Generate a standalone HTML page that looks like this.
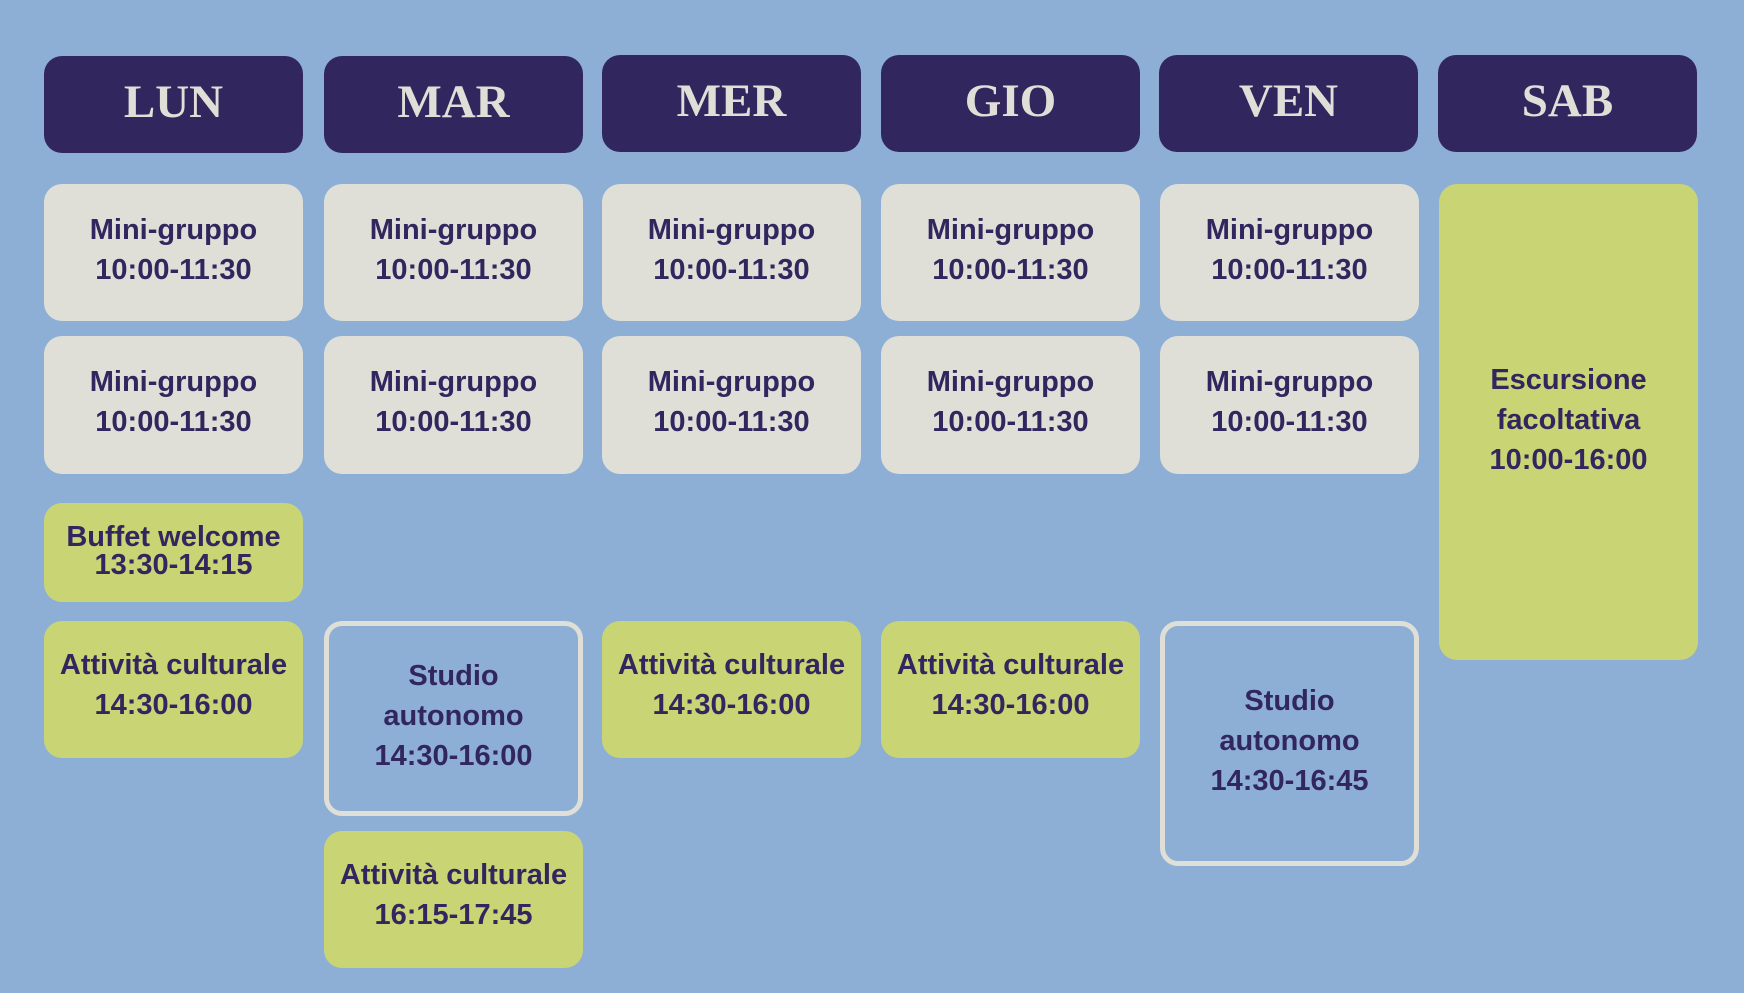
<!DOCTYPE html>
<html><head><meta charset="utf-8"><style>
body{margin:0;width:1744px;height:993px;background:#8dafd5;position:relative;overflow:hidden;font-family:"Liberation Sans",sans-serif;}
.b{position:absolute;width:259px;border-radius:18px;display:flex;align-items:center;justify-content:center;text-align:center;color:#32265f;font-weight:bold;font-size:29px;line-height:40px;box-sizing:border-box;padding-bottom:6px;}
.h{background:#32265f;color:#e0dfd7;font-family:"Liberation Serif",serif;font-size:47px;letter-spacing:0;height:97px;padding-bottom:6px;}
.g{background:#dfdfd7;}
.y{background:#c9d475;}
.o{border:5px solid #dfdfd7;background:transparent;}
</style></head><body>
<div class="b h" style="left:44px;top:56px">LUN</div>
<div class="b h" style="left:324px;top:56px">MAR</div>
<div class="b h" style="left:602px;top:55px">MER</div>
<div class="b h" style="left:881px;top:55px">GIO</div>
<div class="b h" style="left:1159px;top:55px">VEN</div>
<div class="b h" style="left:1438px;top:55px">SAB</div>

<div class="b g" style="left:44px;top:184px;height:137px">Mini-gruppo<br>10:00-11:30</div>
<div class="b g" style="left:324px;top:184px;height:137px">Mini-gruppo<br>10:00-11:30</div>
<div class="b g" style="left:602px;top:184px;height:137px">Mini-gruppo<br>10:00-11:30</div>
<div class="b g" style="left:881px;top:184px;height:137px">Mini-gruppo<br>10:00-11:30</div>
<div class="b g" style="left:1160px;top:184px;height:137px">Mini-gruppo<br>10:00-11:30</div>

<div class="b g" style="left:44px;top:336px;height:138px">Mini-gruppo<br>10:00-11:30</div>
<div class="b g" style="left:324px;top:336px;height:138px">Mini-gruppo<br>10:00-11:30</div>
<div class="b g" style="left:602px;top:336px;height:138px">Mini-gruppo<br>10:00-11:30</div>
<div class="b g" style="left:881px;top:336px;height:138px">Mini-gruppo<br>10:00-11:30</div>
<div class="b g" style="left:1160px;top:336px;height:138px">Mini-gruppo<br>10:00-11:30</div>

<div class="b y" style="left:1439px;top:184px;height:476px;padding-bottom:4px">Escursione<br>facoltativa<br>10:00-16:00</div>

<div class="b y" style="left:44px;top:503px;height:99px;line-height:28px;padding-bottom:4px">Buffet welcome<br>13:30-14:15</div>

<div class="b y" style="left:44px;top:621px;height:137px;padding-bottom:10px">Attività culturale<br>14:30-16:00</div>
<div class="b o" style="left:324px;top:621px;height:195px">Studio<br>autonomo<br>14:30-16:00</div>
<div class="b y" style="left:602px;top:621px;height:137px;padding-bottom:10px">Attività culturale<br>14:30-16:00</div>
<div class="b y" style="left:881px;top:621px;height:137px;padding-bottom:10px">Attività culturale<br>14:30-16:00</div>
<div class="b o" style="left:1160px;top:621px;height:245px">Studio<br>autonomo<br>14:30-16:45</div>

<div class="b y" style="left:324px;top:831px;height:137px;padding-bottom:10px">Attività culturale<br>16:15-17:45</div>
</body></html>
